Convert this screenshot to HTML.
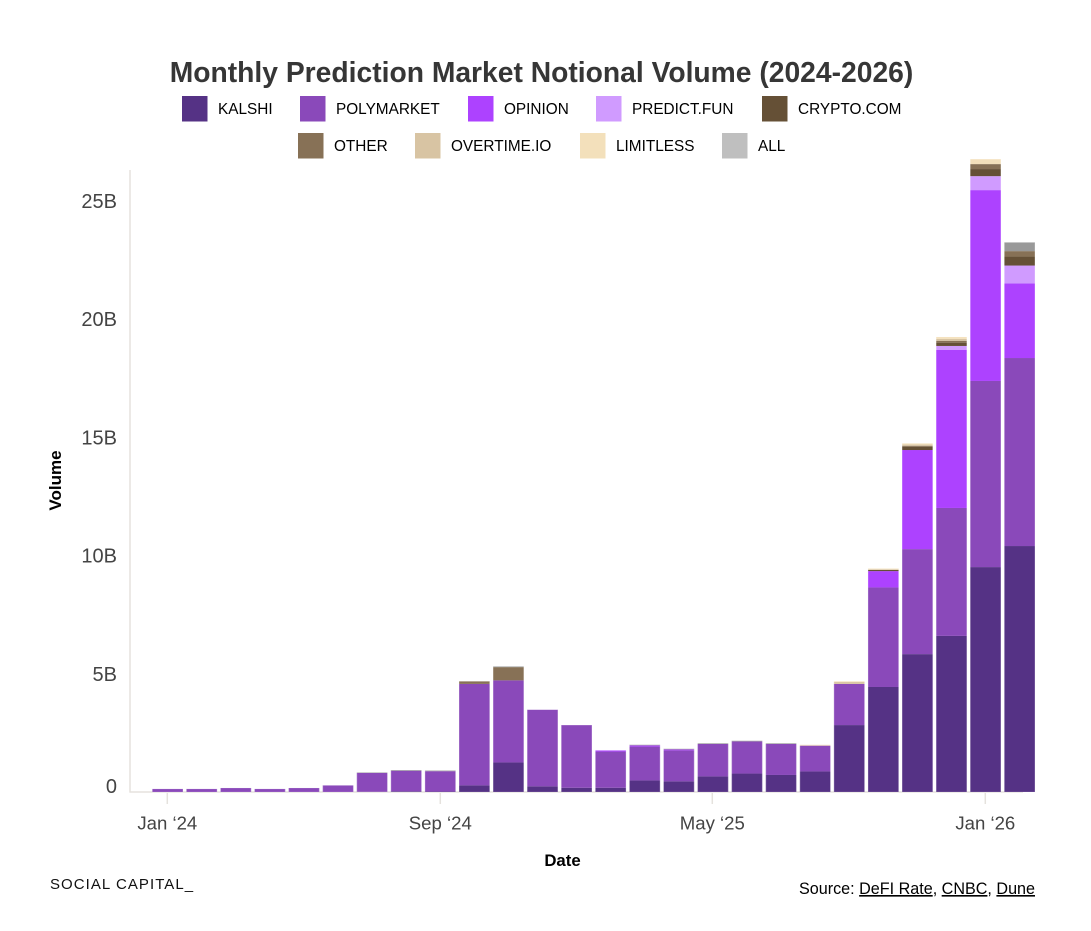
<!DOCTYPE html>
<html lang="en">
<head>
<meta charset="utf-8">
<title>Monthly Prediction Market Notional Volume</title>
<style>
html,body{margin:0;padding:0;background:#fff;}
body{width:1091px;height:931px;overflow:hidden;font-family:"Liberation Sans",sans-serif;}
svg{display:block;}
text{font-family:"Liberation Sans",sans-serif;}
</style>
</head>
<body>
<svg id="chart" xmlns="http://www.w3.org/2000/svg" width="1091" height="931" viewBox="0 0 1091 931">
  <rect width="1091" height="931" fill="#fff"/>
  <text x="541.5" y="82" text-anchor="middle" font-size="28.25" font-weight="700" fill="#363636">Monthly Prediction Market Notional Volume (2024-2026)</text>
  <g id="legend"></g>
  <g id="bars"></g>
  <g id="axes"></g>
  <text transform="translate(61,480.5) rotate(-90)" text-anchor="middle" font-size="17" font-weight="700" fill="#000">Volume</text>
  <text x="562.5" y="866" text-anchor="middle" font-size="16.8" font-weight="700" fill="#000">Date</text>
  <text x="50" y="889" font-size="15" letter-spacing="1.05" fill="#111">SOCIAL CAPITAL_</text>
  <text x="1035" y="894" text-anchor="end" font-size="16.15" fill="#000">Source: <tspan text-decoration="underline">DeFI Rate</tspan>, <tspan text-decoration="underline">CNBC</tspan>, <tspan text-decoration="underline">Dune</tspan></text>
</svg>
<script>
// Months, in order
const months = ["2024-01","2024-02","2024-03","2024-04","2024-05","2024-06","2024-07","2024-08","2024-09","2024-10","2024-11","2024-12","2025-01","2025-02","2025-03","2025-04","2025-05","2025-06","2025-07","2025-08","2025-09","2025-10","2025-11","2025-12","2026-01","2026-02"];
// Series values in billions of dollars
const kalshi     = [0,0,0,0,0,0,0.01,0.03,0.02,0.28,1.25,0.24,0.18,0.18,0.49,0.45,0.66,0.78,0.72,0.87,2.83,4.44,5.83,6.60,9.51,10.40];
const polymarket = [0.13,0.13,0.17,0.13,0.17,0.28,0.80,0.87,0.86,4.29,3.47,3.24,2.65,1.53,1.43,1.31,1.37,1.36,1.31,1.09,1.74,4.21,4.44,5.41,7.87,7.95];
const opinion    = [0,0,0,0,0,0,0,0,0,0,0,0,0,0.05,0.05,0.04,0,0,0,0,0,0.69,4.19,6.68,8.07,3.15];
const predictFun = [0,0,0,0,0,0,0,0,0,0,0,0,0,0,0,0,0,0,0,0,0,0,0,0.17,0.59,0.76];
const cryptoCom  = [0,0,0,0,0,0,0,0,0,0,0,0,0,0,0,0,0,0,0,0,0,0.05,0.14,0.14,0.30,0.38];
const other      = [0,0,0,0,0,0,0,0,0,0.11,0.56,0,0,0,0,0,0,0,0,0,0,0,0.04,0.08,0.21,0.23];
const overtime   = [0,0,0,0,0,0,0,0,0,0,0,0,0,0,0,0,0,0,0,0,0.08,0.03,0.05,0.08,0,0];
const limitless  = [0,0,0,0,0,0,0,0,0,0,0,0,0,0,0,0,0,0,0,0.04,0.03,0.03,0.05,0.08,0.21,0];
const allMarkets = [0,0,0,0,0,0,0.02,0.03,0.03,0,0.03,0,0,0,0.03,0.03,0.03,0.03,0.03,0,0,0,0,0,0,0.37];
// Series names and styling
const seriesNames = ["KALSHI","POLYMARKET","OPINION","PREDICT.FUN","CRYPTO.COM","OTHER","OVERTIME.IO","LIMITLESS","ALL"];
const seriesValues = [kalshi,polymarket,opinion,predictFun,cryptoCom,other,overtime,limitless,allMarkets];
const barColors = ["#553285","#8a49ba","#ad42ff","#d09bff","#655036","#877156","#d8c4a3","#f3e0bb","#999999"];
const swatchColors = ["#553285","#8a49ba","#ad42ff","#d09bff","#655036","#877156","#d8c4a3","#f3e0bb","#bfbfbf"];
// Tick labels
const yTickValues = [0,5,10,15,20,25];
const xTickMonths = ["2024-01","2024-09","2025-05","2026-01"];
const xTickLabels = ["Jan \u201824","Sep \u201824","May \u201825","Jan \u201826"];

const NS = "http://www.w3.org/2000/svg";
const baseY = 792, pxPerB = 23.65;
const firstX = 167.65, stepX = 34.08, barW = 30.7;
const yScale = v => baseY - v * pxPerB;
const xScale = m => firstX + months.indexOf(m) * stepX;
const axisColor = "#e5e2dd";

function make(tag, attrs, parent) {
  const el = document.createElementNS(NS, tag);
  for (const k in attrs) el.setAttribute(k, attrs[k]);
  parent.appendChild(el);
  return el;
}

// Axes lines first so that bars sit over the baseline
const axesG = document.getElementById("axes");
const barsG = document.getElementById("bars");
const yLine = make("line", {x1: 130, y1: 170, x2: 130, y2: 792.5, stroke: axisColor, "stroke-width": 1.5}, barsG);


const xLine = make("line", {x1: 129.5, y1: 792, x2: 1023, y2: 792, stroke: axisColor, "stroke-width": 1.5}, barsG);



// Bars
months.forEach((m) => {
  const i = months.indexOf(m);
  let cum = 0;
  seriesValues.forEach((vals, s) => {
    const v = vals[i];
    if (!v) return;
    const y1 = yScale(cum + v), y0 = yScale(cum);
    const r = make("rect", {x: xScale(m) - barW / 2, y: y1, width: barW, height: y0 - y1, fill: barColors[s]}, barsG);
    
    
    cum += v;
  });
  const o = make("rect", {x: xScale(m) - barW / 2 + 0.25, y: yScale(cum), width: barW - 0.5, height: baseY - yScale(cum), fill: "none", stroke: "#fff", "stroke-opacity": 0.3, "stroke-width": 0.5}, barsG);
  
  
});

// Axis ticks and labels
yTickValues.forEach((v) => {
  const t = make("text", {x: 117, y: (v === 0 ? yScale(v) - 6 : yScale(v)) + 7, "text-anchor": "end", "font-size": 20, fill: "#444"}, axesG);
  t.textContent = v === 0 ? "0" : v + "B";
  
  
});

xTickMonths.forEach((m, i) => {
  const x = Math.floor(xScale(m)) + 0.3;
  const tick = make("line", {x1: x, y1: 793, x2: x, y2: 804, stroke: axisColor, "stroke-width": 1.5}, axesG);
  
  
  const t = make("text", {x: x, y: 829.5, "text-anchor": "middle", "font-size": 18.6, fill: "#444"}, axesG);
  t.textContent = xTickLabels[i];
  
  
});

// Legend: swatch left edges and the row each entry sits on
const legendG = document.getElementById("legend");
const legendRows = [[182,300,468,596,762],[298,415,580,722]];
let seriesIdx = 0;
legendRows.forEach((row, r) => {
  const top = 96 + r * 37;
  row.forEach((x) => {
    const sw = make("rect", {x: x, y: top, width: 25.5, height: 25.5, fill: swatchColors[seriesIdx]}, legendG);
    
    
    const t = make("text", {x: x + 36, y: top + 18, "font-size": 15.35, fill: "#000"}, legendG);
    t.textContent = seriesNames[seriesIdx];
    
    
    seriesIdx++;
  });
});
</script>
</body>
</html>
